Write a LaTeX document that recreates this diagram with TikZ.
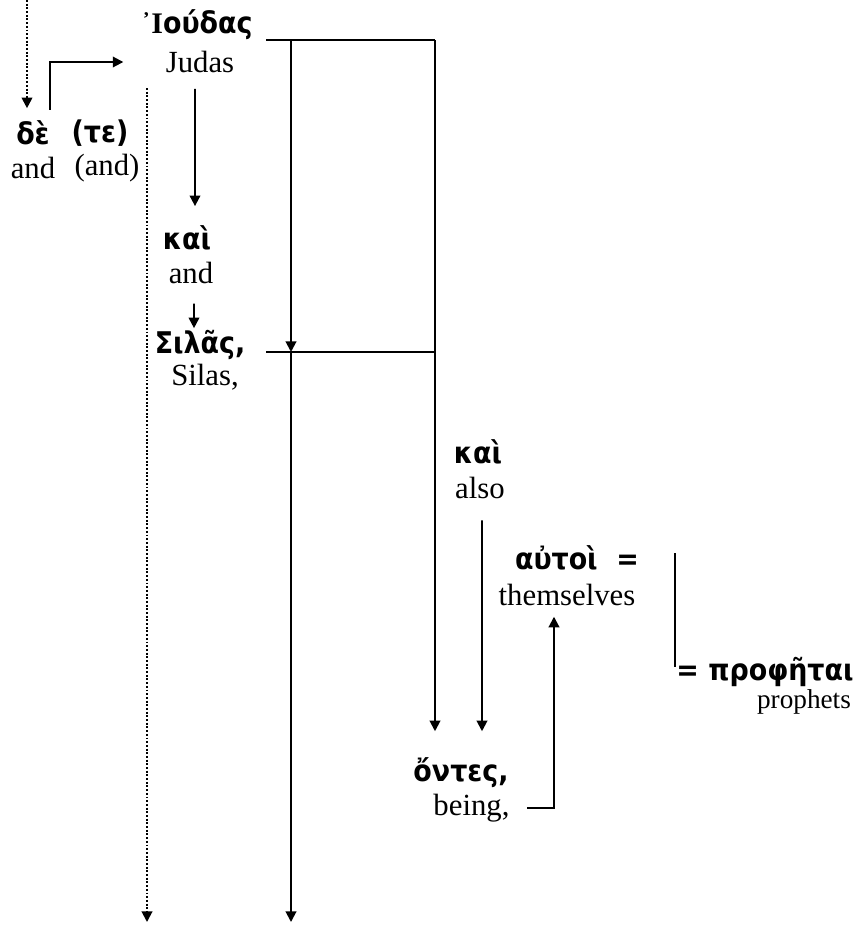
\documentclass[tikz,border=0pt]{standalone}
\usepackage{fontspec}
\setmainfont{Liberation Serif}
\newfontfamily\grkfont{DejaVu Sans Condensed}
\usetikzlibrary{arrows.meta}

\begin{document}
\begin{tikzpicture}[
            grk/.style={font=\grkfont\bfseries\fontsize{17}{20}\selectfont,
                        inner sep=1pt},
            eng/.style={font=\fontsize{17.5}{21}\selectfont, inner sep=1pt},
            arr/.style={-{Triangle[length=6pt, width=6pt]}, line width=1.1pt},
            dotarr/.style={arr, densely dotted},
            bar/.style={line width=1.1pt}
          ]
          \useasboundingbox (0,0) rectangle (17.1,-18.5);

          % Subject: Judas and Silas
          \node[grk] (iouda)   at (3.94, -0.50) {{\rmfamily ᾿Ι}ούδας};
          \node[eng] (judas)   at (4.00, -1.24) {Judas};
          \node[grk] (kai1)    at (3.74, -4.76) {καὶ};
          \node[eng] (kai1en)  at (3.82, -5.46) {and};
          \node[grk] (silas)   at (4.00, -6.90) {Σιλᾶς,};
          \node[eng] (silasen) at (4.10, -7.54) {Silas,};

          % Connectives on the left
          \node[grk] (de)   at (0.66, -2.66) {δὲ};
          \node[grk] (te)   at (2.00, -2.66) {(τε)};
          \node[eng] (deen) at (0.66, -3.36) {and};
          \node[eng] (teen) at (2.14, -3.36) {(and)};

          % Predicate side
          \node[grk] (kai2)    at (9.56, -9.04)  {καὶ};
          \node[eng] (kai2en)  at (9.60, -9.76)  {also};
          \node[grk] (autoi)   at (11.54, -11.16) {αὐτοὶ~~=};
          \node[eng] (autoien) at (11.34, -11.90) {themselves};
          \node[grk] (proph)   at (15.30, -13.44) {= προφῆται};
          \node[eng, font=\fontsize{15.5}{18}\selectfont]
                     (prophen) at (16.08, -14.04) {prophets};
          \node[grk] (ontes)   at (9.22, -15.46)  {ὄντες,};
          \node[eng] (being)   at (9.43, -16.16)  {being,};

          % Bracket joining the two subjects
          \coordinate (jl)      at (5.32, -0.80);
          \coordinate (jr)      at (8.70, -0.80);
          \coordinate (sl)      at (5.32, -7.04);
          \coordinate (sr)      at (8.70, -7.04);
          \coordinate (stem)    at (5.82, -0.80);
          \coordinate (stemend) at (5.82, -18.44);
          \draw[bar] (jl) -- (jr);
          \draw[bar] (sl) -- (sr);
          \draw[arr] (stem) -- (stem |- sl);
          \draw[arr] (stem |- sl) -- (stemend);
          \draw[arr, shorten >=14pt] (jr) -- (jr |- ontes.north);

          % Dotted guides
          \coordinate (ctop) at (0.54, 0);
          \coordinate (dtop) at (2.94, -1.76);
          \coordinate (dend) at (2.94, -18.44);
          \draw[dotarr, shorten >=6pt] (ctop) -- (ctop |- de.north);
          \draw[dotarr] (dtop) -- (dend);

          % Chain on the left
          \draw[arr, shorten <=5pt, shorten >=23pt]
                ([xshift=0.34cm]de.north) |- (judas.west);
          \draw[arr, shorten <=8pt, shorten >=10pt]
                ([xshift=-0.10cm]judas.south) -- ([xshift=0.16cm]kai1.north);
          \draw[arr, shorten <=10pt]
                ([xshift=0.06cm]kai1en.south) -- ([xshift=-0.12cm]silas.north);

          % Chain on the right
          \draw[arr, shorten <=11pt, shorten >=14pt]
                ([xshift=0.04cm]kai2en.south) -- ([xshift=0.42cm]ontes.north);
          \draw[arr, shorten <=9pt, shorten >=5pt]
                (being.east) -| ([xshift=-0.26cm]autoien.south);
          \coordinate (eqtop) at (13.50, -11.06);
          \draw[bar, shorten >=3pt] (eqtop) -- (eqtop |- proph.west);
        \end{tikzpicture}
\end{document}
